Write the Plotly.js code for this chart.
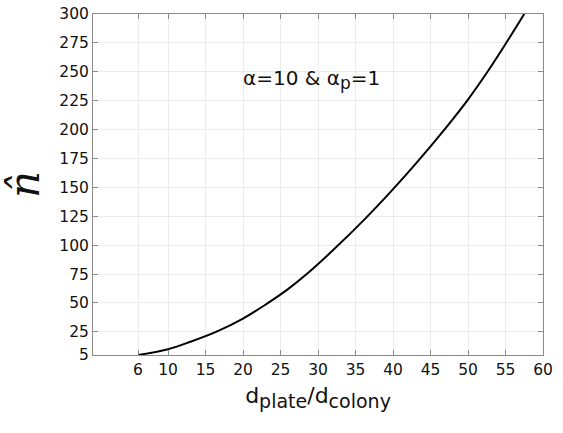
<!DOCTYPE html>
<html><head><meta charset="utf-8">
<script src="https://cdn.plot.ly/plotly-3.0.1.min.js"></script>
<style>html,body{margin:0;padding:0;background:#fff;}#chart{width:563px;height:433px;}</style>
</head><body><div id="chart"></div>
<script>
// values
const ratio = [6, 10, 13, 16.4, 20, 23.1, 26, 28.5, 32.3, 36.3, 39.8, 43.1, 47.1, 50, 52.6, 55, 57.5];
const nHat  = [5, 10, 16.5, 25, 36.5, 49, 62, 75, 97.5, 123, 147, 171, 202, 226, 250, 274, 300];
const xTicks = [6, 10, 15, 20, 25, 30, 35, 40, 45, 50, 55, 60];
const yTicks = [5, 25, 50, 75, 100, 125, 150, 175, 200, 225, 250, 275, 300];

const fontFam = 'DejaVu Sans, Verdana, sans-serif';
const trace = {x: ratio, y: nHat, mode: 'lines', line: {color: '#000', width: 2, shape: 'spline'}, hoverinfo: 'skip'};
const layout = {
  width: 563, height: 433,
  margin: {l: 93, r: 20, t: 14, b: 78},
  paper_bgcolor: '#fff', plot_bgcolor: '#fff',
  showlegend: false,
  font: {family: fontFam, color: '#111', size: 15.5},
  xaxis: {range: [0, 60], tickvals: xTicks, ticktext: xTicks.map(String), ticks: 'inside', ticklen: 5,
    tickcolor: '#8a8a8a', showline: true, linecolor: '#8a8a8a', linewidth: 1, mirror: 'ticks',
    showgrid: true, gridcolor: '#ebebeb', zeroline: false, tickfont: {size: 15.5, color: '#111'},
    title: {text: 'd<sub><span style="font-size:19px">plate</span></sub>/d<sub><span style="font-size:19px">colony</span></sub>',
      font: {size: 22, color: '#111'}, standoff: 10}},
  yaxis: {range: [5, 300], tickvals: yTicks, ticktext: yTicks.map(String), ticks: 'inside', ticklen: 5,
    tickcolor: '#8a8a8a', showline: true, linecolor: '#8a8a8a', linewidth: 1, mirror: 'ticks',
    showgrid: true, gridcolor: '#ebebeb', zeroline: false, tickfont: {size: 15.5, color: '#111'},
    title: {text: '<i>n̂</i>', font: {size: 42, color: '#111', family: 'DejaVu Serif, Liberation Serif, serif'}, standoff: 14}},
  annotations: [{x: 29.1, y: 243, xref: 'x', yref: 'y', text: 'α=10 &amp; α<sub><span style="font-size:17px">p</span></sub>=1', showarrow: false,
    font: {size: 20, color: '#111', family: fontFam}}]
};
Plotly.newPlot('chart', [trace], layout, {staticPlot: true, displayModeBar: false});
</script>
</body></html>
